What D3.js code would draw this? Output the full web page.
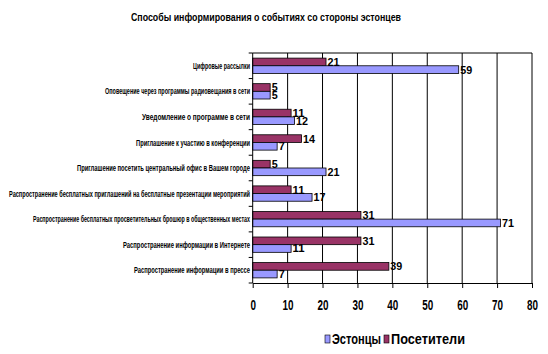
<!DOCTYPE html>
<html>
<head>
<meta charset="utf-8">
<script src="https://cdn.jsdelivr.net/npm/d3@7"></script>
<style>
  body { margin: 0; background: #fff; }
  svg text { font-family: "Liberation Sans", Arial, sans-serif; font-weight: bold; fill: #000; }
</style>
</head>
<body>
<svg id="chart" width="548" height="354"></svg>
<script>
const categories = [
    "Цифровые рассылки",
    "Оповещение через программы радиовещания в сети",
    "Уведомление о программе в сети",
    "Приглашение к участию в конференции",
    "Приглашение посетить центральный офис в Вашем городе",
    "Распространение бесплатных приглашений на бесплатные презентации мероприятий",
    "Распространение бесплатных просветительных брошюр в общественных местах",
    "Распространение информации в Интернете",
    "Распространение информации в прессе"
];
const estonians = [59, 5, 12, 7, 21, 17, 71, 11, 7];
const visitors = [21, 5, 11, 14, 5, 11, 31, 31, 39];
const seriesNames = ["Эстонцы", "Посетители"];
const xTicks = [0, 10, 20, 30, 40, 50, 60, 70, 80];
const title = "Способы информирования о событиях со стороны эстонцев";

// label widths (the original font is very condensed)
const labelWidths = [57, 145, 108, 114, 173, 241, 217, 127, 116];

const colors = {"Эстонцы": "#9999ff", "Посетители": "#993366"};

const svg = d3.select("#chart");
const plot = {left: 252.7, right: 532, top: 53, bottom: 283};

const x = d3.scaleLinear().domain([0, 80]).range([plot.left, plot.right]);
const y = d3.scaleBand().domain(categories).range([plot.top, plot.bottom])
    .paddingInner(0.4).paddingOuter(0.2);
// maroon bar on top, blue below
const ySub = d3.scaleBand().domain(["Посетители", "Эстонцы"]).range([0, y.bandwidth()]);

const rows = categories.map((c, i) => ({cat: c, "Эстонцы": estonians[i], "Посетители": visitors[i]}));

// title
svg.append("text")
    .attr("x", 131).attr("y", 21)
    .attr("font-size", 11)
    .attr("textLength", 270).attr("lengthAdjust", "spacingAndGlyphs")
    .text(title);

// grid lines + top border
svg.append("g").selectAll("line")
    .data(xTicks.slice(1))
    .join("line")
    .attr("x1", d => x(d)).attr("x2", d => x(d))
    .attr("y1", plot.top).attr("y2", plot.bottom)
    .attr("stroke", "#000").attr("stroke-width", 1);
svg.append("line")
    .attr("x1", plot.left).attr("x2", plot.right)
    .attr("y1", plot.top).attr("y2", plot.top)
    .attr("stroke", "#000");

// bars
const groups = svg.append("g").selectAll("g")
    .data(rows)
    .join("g")
    .attr("transform", d => `translate(0,${y(d.cat)})`);

groups.selectAll("rect")
    .data(d => ["Посетители", "Эстонцы"].map(k => ({key: k, value: d[k]})))
    .join("rect")
    .attr("x", x(0))
    .attr("y", d => ySub(d.key))
    .attr("width", d => x(d.value) - x(0))
    .attr("height", ySub.bandwidth())
    .attr("fill", d => colors[d.key])
    .attr("stroke", "#000").attr("stroke-width", 0.8);

groups.selectAll("text")
    .data(d => ["Посетители", "Эстонцы"].map(k => ({key: k, value: d[k]})))
    .join("text")
    .attr("x", d => x(d.value) + 1.5)
    .attr("y", d => ySub(d.key) + ySub.bandwidth() / 2)
    .attr("dy", "0.36em")
    .attr("font-size", 11)
    .attr("textLength", d => String(d.value).length * 6)
    .attr("lengthAdjust", "spacingAndGlyphs")
    .text(d => d.value);

// y axis line and ticks at category boundaries
svg.append("line")
    .attr("x1", plot.left).attr("x2", plot.left)
    .attr("y1", plot.top).attr("y2", plot.bottom)
    .attr("stroke", "#000");
svg.append("g").selectAll("line")
    .data(d3.range(categories.length + 1))
    .join("line")
    .attr("x1", plot.left - 4).attr("x2", plot.left)
    .attr("y1", i => plot.top + i * y.step()).attr("y2", i => plot.top + i * y.step())
    .attr("stroke", "#000");

// category labels
svg.append("g").selectAll("text")
    .data(categories)
    .join("text")
    .attr("x", 250)
    .attr("y", d => y(d) + y.bandwidth() / 2)
    .attr("dy", "0.35em")
    .attr("text-anchor", "end")
    .attr("font-size", 9)
    .attr("textLength", (d, i) => labelWidths[i])
    .attr("lengthAdjust", "spacingAndGlyphs")
    .text(d => d);

// x axis
const xAxis = svg.append("g")
    .attr("transform", `translate(0,${plot.bottom})`)
    .call(d3.axisBottom(x).tickValues(xTicks).tickSize(5).tickSizeOuter(0).tickPadding(11));
xAxis.select(".domain").attr("stroke", "#000");
xAxis.selectAll(".tick line").attr("stroke", "#000");
xAxis.selectAll(".tick text")
    .attr("font-size", 15)
    .attr("font-family", "Liberation Sans, Arial, sans-serif")
    .attr("font-weight", "bold")
    .attr("fill", "#000")
    .attr("textLength", d => String(d).length * 5.5)
    .attr("lengthAdjust", "spacingAndGlyphs");

// legend
const legendItems = [
    {name: "Эстонцы", box: 325, tx: 332, w: 49},
    {name: "Посетители", box: 384, tx: 391, w: 74}
];
const legend = svg.append("g");
legend.selectAll("rect")
    .data(legendItems)
    .join("rect")
    .attr("x", d => d.box).attr("y", 335)
    .attr("width", 5).attr("height", 8)
    .attr("fill", d => colors[d.name])
    .attr("stroke", "#000").attr("stroke-width", 0.6);
legend.selectAll("text")
    .data(legendItems)
    .join("text")
    .attr("x", d => d.tx).attr("y", 344)
    .attr("font-size", 14)
    .attr("textLength", d => d.w)
    .attr("lengthAdjust", "spacingAndGlyphs")
    .text(d => d.name);
</script>
</body>
</html>
